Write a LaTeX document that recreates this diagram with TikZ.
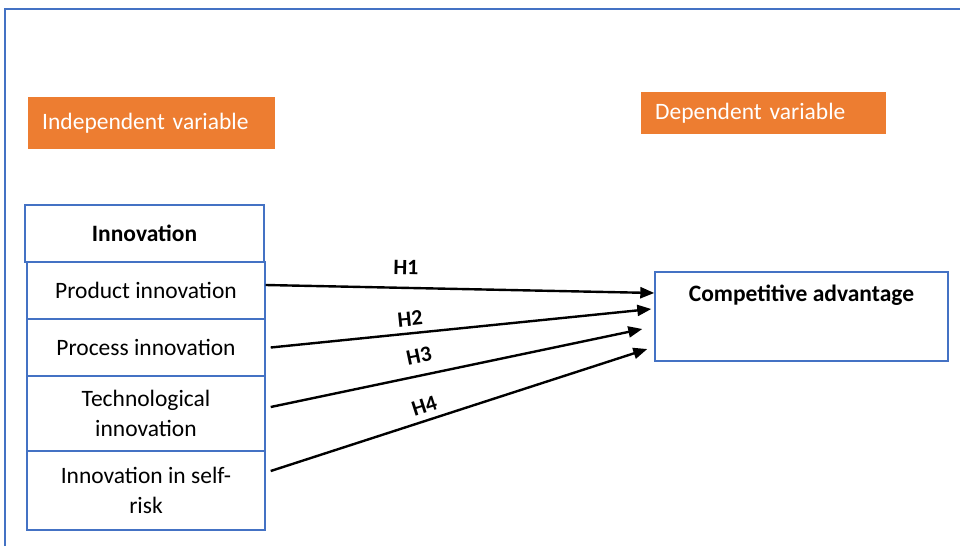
\documentclass[tikz,border=0pt]{standalone}
\usepackage{fontspec}
\setmainfont{Carlito}
\usetikzlibrary{arrows.meta}
\definecolor{boxblue}{HTML}{4472C4}
\definecolor{varorange}{HTML}{ED7D31}
\begin{document}
\begin{tikzpicture}
		[x=1pt, y=-1pt, font=\fontsize{23.5}{30}\selectfont,
		frame/.style ={draw=boxblue, line width=1.8pt},
		block/.style ={rectangle, draw=boxblue, line width=1.4pt, minimum width=238pt, align=center, inner sep=2pt},
		tag/.style ={rectangle, fill=varorange, text=white, anchor=west, align=left, inner xsep=14pt},
		hyp/.style ={-{Triangle[length=14pt,width=11pt]}, line width=2.4pt},
		hlabel/.style ={sloped, font=\fontsize{22}{24}\selectfont\bfseries}];
		\useasboundingbox (0,0) rectangle (960,546);
		\draw[frame] (5,546) -- (5,9) -- (960,9);
		% variable tags
		\node [tag, text width=219pt, minimum height=52pt] (indep) at (28,123) {Independent variable};
		\node [tag, text width=217pt, minimum height=42pt] (dep) at (641,113) {Dependent variable};
		% innovation dimensions
		\node [block, minimum width=239pt, minimum height=57pt] (innov) at (144.5,233.5) {\textbf{Innovation}};
		\node [block, minimum height=57pt] (product) at (146,290.5) {Product innovation};
		\node [block, minimum height=57pt] (process) at (146,347.5) {Process innovation};
		\node [block, minimum height=75pt] (tech) at (146,413.5) {Technological\\innovation};
		\node [block, minimum height=79pt] (selfrisk) at (146,490.5) {Innovation in self-\\risk};
		% outcome
		\node [block, minimum width=293pt, minimum height=89pt,
			label={[anchor=center, yshift=-24pt]north:\textbf{Competitive advantage}}] (compadv) at (801.5,316.5) {};
		% hypotheses
		\draw[hyp] ([yshift=5.5pt]product.east) -- node[hlabel, pos=0.36, above=9pt] {H1} ([yshift=23.5pt]compadv.west);
		\draw[hyp] ([xshift=5pt]process.east) -- node[hlabel, pos=0.37, above=3pt] {H2} ([xshift=-3pt, yshift=7.5pt]compadv.west);
		\draw[hyp] ([xshift=5pt, yshift=6.5pt]tech.east) -- node[hlabel, pos=0.41, above=8pt] {H3} ([xshift=-12pt, yshift=-12.5pt]compadv.west);
		\draw[hyp] ([xshift=5pt, yshift=19.5pt]selfrisk.east) -- node[hlabel, pos=0.42, above=3pt] {H4} ([xshift=-7pt, yshift=-32.5pt]compadv.west);
\end{tikzpicture}
\end{document}
